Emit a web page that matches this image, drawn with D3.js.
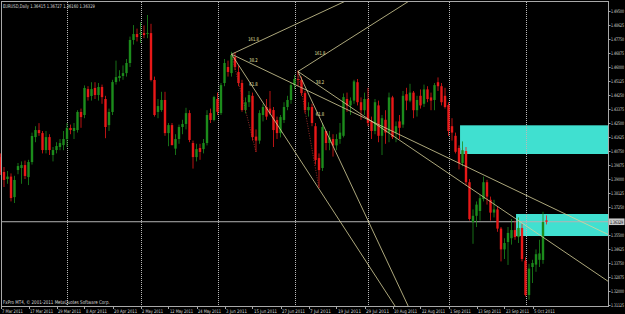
<!DOCTYPE html>
<html>
<head>
<meta charset="utf-8">
<script src="https://cdn.jsdelivr.net/npm/d3@7"></script>
<style>
html, body { margin: 0; padding: 0; background: #000; }
svg { display: block; }
text { font-family: "DejaVu Sans", sans-serif; }
</style>
</head>
<body>
<svg id="chart" width="625" height="314"></svg>
<script>
// EURUSD daily, bar 0 = 7 Mar 2011 ... bar 156 = 11 Oct 2011
var opens = [1.4037,1.3944,1.3900,1.3915,1.3787,1.3956,1.3969,1.3987,1.3912,1.4006,
  1.4162,1.4206,1.4187,1.4081,1.4162,1.4050,1.4081,1.4100,1.4112,1.4150,
  1.4219,1.4200,1.4206,1.4319,1.4300,1.4462,1.4419,1.4469,1.4425,1.4475,
  1.4400,1.4237,1.4319,1.4506,1.4531,1.4544,1.4562,1.4625,1.4769,1.4806,
  1.4806,1.4812,1.4806,1.4812,1.4519,1.4319,1.4331,1.4394,1.4187,1.4237,
  1.4090,1.4150,1.4225,1.4244,1.4312,1.4125,1.4037,1.4094,1.4087,1.4125,
  1.4312,1.4269,1.4400,1.4312,1.4500,1.4600,1.4562,1.4662,1.4569,1.4500,
  1.4331,1.4380,1.4420,1.4165,1.4140,1.4300,1.4350,1.4340,1.4331,1.4269,
  1.4187,1.4269,1.4350,1.4394,1.4487,1.4525,1.4520,1.4437,1.4330,1.4350,
  1.4230,1.4031,1.3969,1.4200,1.4125,1.4150,1.4110,1.4150,1.4170,1.4400,
  1.4360,1.4390,1.4505,1.4380,1.4330,1.4400,1.4260,1.4200,1.4360,1.4170,
  1.4270,1.4190,1.4410,1.4190,1.4260,1.4240,1.4430,1.4390,1.4440,1.4330,
  1.4420,1.4370,1.4460,1.4410,1.4394,1.4505,1.4480,1.4420,1.4362,1.4230,
  1.4170,1.4094,1.4000,1.4075,1.3880,1.3630,1.3670,1.3700,1.3775,1.3880,
  1.3770,1.3690,1.3710,1.3590,1.3460,1.3506,1.3530,1.3581,1.3537,1.3594,
  1.3390,1.3175,1.3350,1.3365,1.3395,1.3394,1.36415];
var highs = [1.4060,1.3975,1.3950,1.3935,1.3920,1.4000,1.4010,1.4015,1.4020,1.4190,
  1.4230,1.4249,1.4200,1.4200,1.4180,1.4100,1.4130,1.4150,1.4200,1.4250,
  1.4240,1.4250,1.4330,1.4340,1.4485,1.4480,1.4505,1.4505,1.4500,1.4490,
  1.4420,1.4340,1.4520,1.4640,1.4580,1.4610,1.4650,1.4790,1.4862,1.4840,
  1.4880,1.4860,1.4925,1.4870,1.4540,1.4400,1.4445,1.4445,1.4250,1.4250,
  1.4180,1.4240,1.4270,1.4345,1.4330,1.4140,1.4120,1.4120,1.4150,1.4330,
  1.4340,1.4420,1.4440,1.4500,1.4650,1.4640,1.4695,1.4690,1.4610,1.4520,
  1.4410,1.4450,1.4440,1.4210,1.4330,1.4370,1.4400,1.4450,1.4350,1.4290,
  1.4300,1.4380,1.4420,1.4500,1.4550,1.4578,1.4540,1.4450,1.4380,1.4370,
  1.4250,1.4060,1.4250,1.4200,1.4200,1.4180,1.4180,1.4250,1.4435,1.4440,
  1.4410,1.4520,1.4525,1.4410,1.4440,1.4470,1.4290,1.4400,1.4390,1.4300,
  1.4330,1.4440,1.4420,1.4260,1.4300,1.4450,1.4470,1.4495,1.4450,1.4420,
  1.4460,1.4490,1.4480,1.4440,1.4500,1.4535,1.4500,1.4470,1.4380,1.4280,
  1.4190,1.4110,1.4135,1.4100,1.3900,1.3710,1.3760,1.3800,1.3915,1.3895,
  1.3790,1.3770,1.3725,1.3600,1.3530,1.3600,1.3650,1.3640,1.3660,1.3620,
  1.3410,1.3370,1.3395,1.3460,1.3520,1.3695,1.36727];
var lows = [1.3925,1.3850,1.3870,1.3760,1.3750,1.3930,1.3870,1.3900,1.3862,1.3990,
  1.4130,1.4170,1.4060,1.4060,1.4050,1.4010,1.4060,1.4080,1.4080,1.4100,
  1.4180,1.4150,1.4190,1.4220,1.4280,1.4390,1.4390,1.4400,1.4390,1.4370,
  1.4155,1.4200,1.4300,1.4490,1.4510,1.4520,1.4540,1.4600,1.4740,1.4760,
  1.4750,1.4780,1.4780,1.4510,1.4290,1.4280,1.4320,1.4170,1.4105,1.4110,
  1.4050,1.4120,1.4180,1.4210,1.4130,1.3965,1.4010,1.4020,1.4060,1.4110,
  1.4250,1.4260,1.4300,1.4300,1.4480,1.4540,1.4540,1.4580,1.4480,1.4320,
  1.4310,1.4350,1.4140,1.4069,1.4120,1.4260,1.4270,1.4300,1.4100,1.4150,
  1.4160,1.4250,1.4330,1.4370,1.4460,1.4480,1.4420,1.4310,1.4290,1.4230,
  1.3990,1.3844,1.3950,1.4080,1.4080,1.4040,1.4080,1.4120,1.4160,1.4320,
  1.4300,1.4370,1.4360,1.4270,1.4300,1.4230,1.4150,1.4180,1.4130,1.4050,
  1.4120,1.4130,1.4150,1.4130,1.4150,1.4220,1.4330,1.4380,1.4280,1.4290,
  1.4340,1.4350,1.4380,1.4330,1.4330,1.4450,1.4360,1.4340,1.4170,1.4140,
  1.4060,1.3960,1.3980,1.3860,1.3640,1.3495,1.3600,1.3640,1.3760,1.3740,
  1.3640,1.3660,1.3570,1.3385,1.3400,1.3363,1.3490,1.3520,1.3500,1.3385,
  1.3165,1.3146,1.3250,1.3320,1.3350,1.3370,1.36160];
var closes = [1.3944,1.3894,1.3915,1.3781,1.3894,1.3981,1.3987,1.3919,1.4006,1.4169,
  1.4206,1.4187,1.4081,1.4162,1.4081,1.4081,1.4106,1.4125,1.4150,1.4219,
  1.4206,1.4219,1.4319,1.4287,1.4469,1.4412,1.4462,1.4425,1.4475,1.4412,
  1.4225,1.4319,1.4506,1.4537,1.4544,1.4562,1.4625,1.4769,1.4806,1.4787,
  1.4812,1.4800,1.4812,1.4519,1.4300,1.4356,1.4394,1.4187,1.4237,1.4112,
  1.4150,1.4225,1.4244,1.4312,1.4144,1.4037,1.4087,1.4069,1.4125,1.4300,
  1.4269,1.4412,1.4320,1.4487,1.4625,1.4569,1.4675,1.4600,1.4500,1.4331,
  1.4380,1.4425,1.4162,1.4140,1.4312,1.4350,1.4290,1.4310,1.4206,1.4187,
  1.4287,1.4350,1.4394,1.4487,1.4525,1.4520,1.4437,1.4331,1.4350,1.4250,
  1.4019,1.3956,1.4225,1.4125,1.4160,1.4110,1.4150,1.4190,1.4412,1.4360,
  1.4390,1.4510,1.4380,1.4330,1.4400,1.4250,1.4200,1.4380,1.4170,1.4280,
  1.4190,1.4410,1.4162,1.4230,1.4220,1.4420,1.4390,1.4440,1.4330,1.4394,
  1.4360,1.4460,1.4400,1.4390,1.4487,1.4480,1.4380,1.4350,1.4200,1.4190,
  1.4070,1.4000,1.4080,1.3880,1.3650,1.3670,1.3740,1.3780,1.3880,1.3790,
  1.3690,1.3710,1.3590,1.3460,1.3500,1.3563,1.3581,1.3537,1.3594,1.3400,
  1.3175,1.3340,1.3375,1.3430,1.3435,1.3631,1.36329];

var lastPrice = 1.36329;
var headerText = 'EURUSD,Daily  1.36415 1.36727 1.36160 1.36329';
var footerText = 'FxPro MT4, \u00a9 2001-2011 MetaQuotes Software Corp.';

// time axis: one label every 8 bars
var dateLabels = ['7 Mar 2011','17 Mar 2011','29 Mar 2011','8 Apr 2011','20 Apr 2011','2 May 2011',
  '12 May 2011','24 May 2011','3 Jun 2011','15 Jun 2011','27 Jun 2011','7 Jul 2011','19 Jul 2011',
  '29 Jul 2011','10 Aug 2011','22 Aug 2011','1 Sep 2011','13 Sep 2011','23 Sep 2011','5 Oct 2011'];
var dateLabelBars = [0,8,16,24,32,40,48,56,64,72,80,88,96,104,112,120,128,136,144,152];
// first bar of each month (dotted separators)
var monthStartBars = [19,40,62,84,105,128,150];

var priceTicks = [1.49500,1.48625,1.47750,1.46875,1.46000,1.45125,1.44250,1.43375,1.42500,1.41625,
  1.40750,1.39875,1.39000,1.38125,1.37250,1.36375,1.35500,1.34625,1.33750,1.32875,1.32000,1.31125];

// supply/demand boxes: start bar, top price, bottom price (run to right edge)
var zoneStart = [131.3, 147.3];
var zoneTop = [1.42356, 1.36813];
var zoneBottom = [1.40563, 1.35437];

// fibonacci fans: anchor bar/price, base point bar/price
var fanAnchorBar = [66, 85];
var fanAnchorPrice = [1.4680, 1.4572];
var fanBaseBar = [73, 91];
var fanBasePrice = [1.4069, 1.3844];
// rays: through bar/price for each fan, with level labels
var rayLevels = ['161.8', '38.2', '61.8'];
var rayBar = [[98.0, 173.9, 112.9], [116.3, 173.9, 116.6]];
var rayPrice = [[1.50063, 1.35500, 1.31000], [1.50063, 1.32563, 1.31000]];

var svg = d3.select('#chart');
var x = d3.scaleLinear().domain([0, 100]).range([0.5, 350.5]);
var y = d3.scaleLinear().domain([1.31063, 1.50063]).range([306, 2]);

var plotRight = 608, plotTop = 2, plotBottom = 306, plotLeft = 2;

// small squeezed text, like the terminal's narrow bitmap font;
// squeezed horizontally so it spans the given width
function tinyText(parent, tx, ty, str, size, width, color, anchor) {
    var g = parent.append('g');
    var t = g.append('text')
        .attr('font-size', size)
        .attr('fill', color)
        .attr('text-anchor', anchor || 'start')
        .text(str);
    var natural = t.node().getComputedTextLength() || width;
    g.attr('transform', 'translate(' + tx + ',' + ty + ') scale(' + (width / natural) + ',1)');
    return t;
}

svg.append('rect').attr('width', 625).attr('height', 314).attr('fill', '#000');

svg.append('clipPath').attr('id', 'plotclip')
    .append('rect').attr('x', 0).attr('y', plotTop).attr('width', plotRight).attr('height', plotBottom - plotTop);

var plot = svg.append('g').attr('clip-path', 'url(#plotclip)');

// zones (background)
plot.selectAll('.zone').data(zoneStart).enter().append('rect')
    .attr('class', 'zone')
    .attr('x', function(d) { return x(d); })
    .attr('width', function(d) { return plotRight - x(d); })
    .attr('y', function(d, i) { return y(zoneTop[i]); })
    .attr('height', function(d, i) { return y(zoneBottom[i]) - y(zoneTop[i]); })
    .attr('fill', '#40e0d0');

// month separators
plot.selectAll('.sep').data(monthStartBars).enter().append('line')
    .attr('x1', function(d) { return Math.round(x(d)) + 0.5; })
    .attr('x2', function(d) { return Math.round(x(d)) + 0.5; })
    .attr('y1', plotTop).attr('y2', plotBottom)
    .attr('stroke', '#b8b8b8').attr('stroke-width', 1)
    .attr('stroke-dasharray', '1,1');

// current price line
plot.append('line')
    .attr('x1', plotLeft).attr('x2', plotRight)
    .attr('y1', y(lastPrice)).attr('y2', y(lastPrice))
    .attr('stroke', '#b4b4b4').attr('stroke-width', 1);

// candles
var bull = '#1c8c1c', bear = '#e81818';
var bars = d3.range(opens.length);
var candle = plot.selectAll('.candle').data(bars).enter().append('g').attr('class', 'candle');
candle.append('line')
    .attr('x1', function(i) { return x(i); })
    .attr('x2', function(i) { return x(i); })
    .attr('y1', function(i) { return y(highs[i]); })
    .attr('y2', function(i) { return y(lows[i]); })
    .attr('stroke', function(i) { return closes[i] >= opens[i] ? bull : bear; })
    .attr('stroke-width', 0.8);
candle.append('rect')
    .attr('x', function(i) { return x(i) - 1.2; })
    .attr('width', 2.4)
    .attr('y', function(i) { return y(Math.max(opens[i], closes[i])); })
    .attr('height', function(i) { return Math.max(0.8, Math.abs(y(opens[i]) - y(closes[i]))); })
    .attr('fill', function(i) { return closes[i] >= opens[i] ? bull : bear; });

// fans
fanAnchorBar.forEach(function(ab, f) {
    var ax = x(ab), ay = y(fanAnchorPrice[f]);
    plot.append('line')
        .attr('x1', ax).attr('y1', ay)
        .attr('x2', x(fanBaseBar[f])).attr('y2', y(fanBasePrice[f]))
        .attr('stroke', '#a8322c').attr('stroke-width', 0.9)
        .attr('stroke-dasharray', '1,1.5');
    rayLevels.forEach(function(lv, r) {
        var bx = x(rayBar[f][r]), by = y(rayPrice[f][r]);
        var slope = (by - ay) / (bx - ax);
        plot.append('line')
            .attr('x1', ax).attr('y1', ay)
            .attr('x2', ax + 500).attr('y2', ay + slope * 500)
            .attr('stroke', '#d8d29a').attr('stroke-width', 0.8);
        tinyText(plot, ax + 22, ay + slope * 22 - 2.5, lv, 5, lv.length * 2.1, '#e6e0a4', 'middle');
    });
});

// frame
svg.append('rect')
    .attr('x', plotLeft - 0.5).attr('y', plotTop - 0.5)
    .attr('width', plotRight - plotLeft + 1).attr('height', plotBottom - plotTop + 1)
    .attr('fill', 'none').attr('stroke', '#a8a8a8').attr('stroke-width', 1);

// price axis
var pax = svg.append('g');
pax.selectAll('.ptick').data(priceTicks).enter().append('line')
    .attr('x1', plotRight + 0.5).attr('x2', plotRight + 2.5)
    .attr('y1', function(d) { return Math.round(y(d)) + 0.5; })
    .attr('y2', function(d) { return Math.round(y(d)) + 0.5; })
    .attr('stroke', '#a8a8a8');
priceTicks.forEach(function(d) {
    tinyText(pax, plotRight + 3, y(d) + 1.8, d3.format('.5f')(d), 4.8, 13, '#d8d8d8');
});
pax.append('rect')
    .attr('x', plotRight + 1).attr('y', y(lastPrice) - 3.3)
    .attr('width', 15.5).attr('height', 6.6)
    .attr('fill', '#c8c8c8');
tinyText(pax, plotRight + 2, y(lastPrice) + 1.8, d3.format('.5f')(lastPrice), 4.8, 13, '#000');

// time axis
var tax = svg.append('g');
tax.selectAll('.ttick').data(dateLabelBars).enter().append('line')
    .attr('x1', function(d) { return Math.round(x(d)) + 0.5; })
    .attr('x2', function(d) { return Math.round(x(d)) + 0.5; })
    .attr('y1', plotBottom).attr('y2', plotBottom + 3)
    .attr('stroke', '#a8a8a8');
dateLabelBars.forEach(function(d, i) {
    tinyText(tax, x(d) + 1.5, 312.5, dateLabels[i], 4.8, dateLabels[i].length * 2.1, '#d8d8d8');
});

// header and footer
tinyText(svg, 3, 7.5, headerText, 5.2, 92, '#d8d8d8');
tinyText(svg, 3, 303.5, footerText, 5.2, 107, '#d8d8d8');
</script>
</body>
</html>
